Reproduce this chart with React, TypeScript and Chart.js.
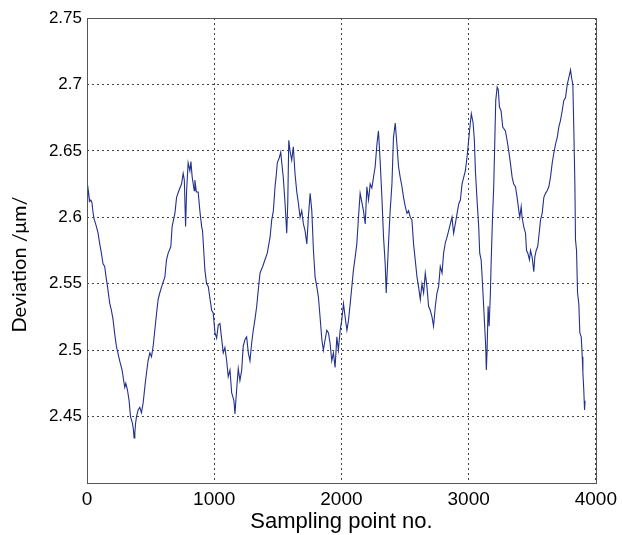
import React, { useEffect, useRef } from "react";
import { Chart, registerables } from "chart.js";

Chart.register(...registerables);

const sampleIndex: number[] = [
  0, 5, 13, 21, 30, 39, 47, 55, 65, 74, 87, 100, 113, 126, 139, 150, 161, 179, 192, 205,
  218, 231, 245, 257, 276, 290, 297, 305, 318, 331, 342, 357, 365, 370, 376, 382, 389, 402, 415, 428,
  441, 450, 460, 480, 494, 507, 520, 533, 546, 559, 572, 594, 612, 625, 638, 659, 669, 691, 704, 722,
  743, 756, 765, 775, 783, 795, 809, 817, 827, 843, 848, 860, 874, 887, 901, 908, 927, 940, 953, 980,
  992, 1006, 1019, 1032, 1045, 1058, 1071, 1084, 1098, 1110, 1124, 1137, 1155, 1163, 1176, 1189, 1202, 1216, 1228, 1242,
  1255, 1268, 1281, 1294, 1307, 1320, 1334, 1346, 1360, 1381, 1399, 1417, 1439, 1452, 1465, 1478, 1486, 1496, 1512, 1523,
  1531, 1543, 1557, 1570, 1578, 1586, 1596, 1609, 1622, 1635, 1649, 1661, 1675, 1688, 1701, 1714, 1728, 1740, 1754, 1767,
  1780, 1793, 1806, 1819, 1832, 1846, 1858, 1872, 1885, 1898, 1911, 1924, 1937, 1950, 1964, 1976, 1990, 2003, 2016, 2029,
  2043, 2055, 2069, 2082, 2094, 2108, 2121, 2134, 2147, 2161, 2173, 2187, 2200, 2213, 2226, 2239, 2252, 2265, 2279, 2291,
  2305, 2318, 2331, 2344, 2352, 2362, 2370, 2383, 2397, 2409, 2423, 2436, 2449, 2462, 2476, 2488, 2502, 2515, 2528, 2541,
  2554, 2567, 2580, 2594, 2606, 2620, 2633, 2646, 2659, 2672, 2685, 2698, 2712, 2724, 2738, 2751, 2764, 2777, 2791, 2803,
  2817, 2830, 2843, 2856, 2869, 2882, 2895, 2909, 2922, 2935, 2948, 2961, 2974, 2987, 3000, 3013, 3021, 3035, 3045, 3053,
  3066, 3079, 3087, 3098, 3106, 3118, 3126, 3134, 3139, 3145, 3153, 3161, 3171, 3176, 3187, 3197, 3205, 3213, 3224, 3233,
  3242, 3255, 3268, 3289, 3302, 3315, 3328, 3342, 3354, 3368, 3381, 3394, 3402, 3413, 3420, 3433, 3447, 3455, 3465, 3478,
  3486, 3499, 3512, 3520, 3531, 3543, 3551, 3565, 3578, 3591, 3604, 3617, 3630, 3643, 3657, 3669, 3683, 3696, 3709, 3722,
  3735, 3748, 3761, 3775, 3787, 3801, 3809, 3819, 3827, 3835, 3840, 3848, 3856, 3866, 3874, 3885, 3893, 3898, 3905, 3909,
  3911, 3915,
];

const deviation: number[] = [
  2.612, 2.624, 2.618, 2.612, 2.613, 2.611, 2.604, 2.599, 2.596, 2.593, 2.588, 2.58, 2.573, 2.565, 2.563, 2.555, 2.548, 2.535, 2.53, 2.523,
  2.512, 2.503, 2.497, 2.492, 2.485, 2.476, 2.472, 2.475, 2.47, 2.462, 2.45, 2.445, 2.44, 2.434, 2.438, 2.445, 2.45, 2.455, 2.457, 2.453,
  2.46, 2.468, 2.477, 2.492, 2.498, 2.495, 2.503, 2.515, 2.527, 2.538, 2.543, 2.55, 2.555, 2.568, 2.573, 2.578, 2.593, 2.603, 2.615, 2.62,
  2.625, 2.633, 2.628, 2.593, 2.62, 2.641, 2.635, 2.642, 2.63, 2.62, 2.628, 2.619, 2.619, 2.605, 2.593, 2.59, 2.56, 2.55, 2.548, 2.53,
  2.528, 2.513, 2.509, 2.519, 2.52, 2.509, 2.498, 2.502, 2.492, 2.48, 2.485, 2.468, 2.462, 2.452, 2.47, 2.486, 2.477, 2.485, 2.503, 2.508,
  2.51, 2.498, 2.492, 2.505, 2.515, 2.523, 2.533, 2.545, 2.558, 2.563, 2.568, 2.573, 2.585, 2.598, 2.605, 2.623, 2.63, 2.641, 2.645, 2.649,
  2.641, 2.63, 2.61, 2.588, 2.61, 2.658, 2.65, 2.643, 2.653, 2.633, 2.619, 2.611, 2.6, 2.605, 2.595, 2.59, 2.58, 2.6, 2.618, 2.605,
  2.575, 2.555, 2.548, 2.54, 2.525, 2.508, 2.5, 2.508, 2.515, 2.513, 2.505, 2.492, 2.498, 2.487, 2.51, 2.5, 2.515, 2.523, 2.535, 2.525,
  2.515, 2.522, 2.535, 2.548, 2.56, 2.57, 2.58, 2.6, 2.618, 2.611, 2.605, 2.595, 2.623, 2.613, 2.625, 2.622, 2.63, 2.638, 2.655, 2.665,
  2.641, 2.615, 2.585, 2.565, 2.543, 2.563, 2.58, 2.605, 2.625, 2.66, 2.671, 2.655, 2.638, 2.63, 2.623, 2.615, 2.608, 2.603, 2.605, 2.6,
  2.598, 2.58, 2.568, 2.555, 2.548, 2.538, 2.55, 2.543, 2.558, 2.548, 2.533, 2.53, 2.525, 2.518, 2.533, 2.543, 2.548, 2.563, 2.558, 2.573,
  2.581, 2.585, 2.59, 2.595, 2.6, 2.588, 2.595, 2.603, 2.61, 2.613, 2.625, 2.63, 2.635, 2.645, 2.658, 2.671, 2.678, 2.671, 2.658, 2.635,
  2.613, 2.593, 2.573, 2.568, 2.555, 2.533, 2.518, 2.503, 2.485, 2.5, 2.533, 2.518, 2.543, 2.563, 2.598, 2.623, 2.655, 2.688, 2.698, 2.696,
  2.683, 2.68, 2.668, 2.665, 2.658, 2.65, 2.641, 2.63, 2.625, 2.623, 2.615, 2.605, 2.6, 2.608, 2.6, 2.593, 2.588, 2.575, 2.573, 2.568,
  2.575, 2.57, 2.559, 2.57, 2.575, 2.578, 2.585, 2.598, 2.603, 2.615, 2.618, 2.62, 2.623, 2.63, 2.641, 2.648, 2.655, 2.66, 2.668, 2.673,
  2.68, 2.688, 2.69, 2.7, 2.705, 2.711, 2.705, 2.7, 2.665, 2.625, 2.583, 2.575, 2.543, 2.535, 2.513, 2.51, 2.495, 2.483, 2.47, 2.46,
  2.455, 2.462,
];

const xTicks: number[] = [0, 1000, 2000, 3000, 4000];
const yMin = 2.4;
const yMax = 2.75;
const yStep = 0.05;
const xTitle = "Sampling point no.";
const yTitle = "Deviation /μm/";

const boxPlugin = {
  id: "boxPlugin",
  afterDraw(chart: any) {
    const { ctx, chartArea } = chart;
    ctx.save();
    ctx.setLineDash([]);
    ctx.strokeStyle = "#555555";
    ctx.lineWidth = 1;
    ctx.strokeRect(
      Math.round(chartArea.left) + 0.5,
      Math.round(chartArea.top) + 0.5,
      Math.round(chartArea.right - chartArea.left),
      Math.round(chartArea.bottom - chartArea.top)
    );
    ctx.restore();
  },
};

const yTitlePlugin = {
  id: "yTitlePlugin",
  afterDraw(chart: any) {
    const { ctx, chartArea } = chart;
    const cy = (chartArea.top + chartArea.bottom) / 2 + 14;
    ctx.save();
    ctx.translate(20, cy);
    ctx.rotate(-Math.PI / 2);
    ctx.fillStyle = "#000";
    ctx.font = "20px Lato, 'Open Sans', sans-serif";
    ctx.textAlign = "center";
    ctx.textBaseline = "middle";
    ctx.fillText(yTitle, 0, 0);
    ctx.restore();
  },
};

export default function App() {
  const canvasRef = useRef<HTMLCanvasElement | null>(null);

  useEffect(() => {
    if (!canvasRef.current) return;
    const points = sampleIndex.map((x, i) => ({ x, y: deviation[i] }));
    const chart = new Chart(canvasRef.current, {
      type: "line",
      data: {
        datasets: [
          {
            data: points,
            borderColor: "#22318c",
            borderWidth: 1.1,
            pointRadius: 0,
            tension: 0,
            fill: false,
          },
        ],
      },
      options: {
        animation: false,
        responsive: true,
        maintainAspectRatio: false,
        layout: { padding: { left: 40, top: 18, right: 26, bottom: 0 } },
        plugins: { legend: { display: false }, tooltip: { enabled: false } },
        scales: {
          x: {
            type: "linear",
            min: 0,
            max: 4000,
            afterFit: (scale: any) => {
              scale.height = 52;
            },
            afterBuildTicks: (scale: any) => {
              scale.ticks = xTicks.map((v) => ({ value: v }));
            },
            ticks: {
              color: "#000",
              font: { family: "'Liberation Sans', Arial, sans-serif", size: 19 },
              padding: 5,
              maxRotation: 0,
              callback: (v: any) => String(v),
            },
            grid: { color: "#444", lineWidth: 1, drawTicks: false },
            border: { display: false, dash: [2, 3] },
            title: {
              display: true,
              text: xTitle,
              color: "#000",
              font: { family: "'Liberation Sans', Arial, sans-serif", size: 22 },
              padding: { top: 0, bottom: 0 },
            },
          },
          y: {
            type: "linear",
            min: yMin,
            max: yMax,
            afterFit: (scale: any) => {
              scale.width = 47;
            },
            ticks: {
              stepSize: yStep,
              color: "#000",
              font: { family: "'Liberation Sans', Arial, sans-serif", size: 17 },
              padding: 5,
              callback: (v: any) => {
                const n = Number(v);
                if (Math.abs(n - yMin) < 1e-6) return "";
                return String(parseFloat(n.toFixed(2)));
              },
            },
            grid: { color: "#444", lineWidth: 1, drawTicks: false },
            border: { display: false, dash: [2, 3] },
            title: { display: false },
          },
        },
      },
      plugins: [boxPlugin, yTitlePlugin],
    });
    return () => chart.destroy();
  }, []);

  return (
    <div style={{ position: "absolute", left: 0, top: 0, width: 622, height: 535, background: "#fff" }}>
      <canvas ref={canvasRef} />
    </div>
  );
}
